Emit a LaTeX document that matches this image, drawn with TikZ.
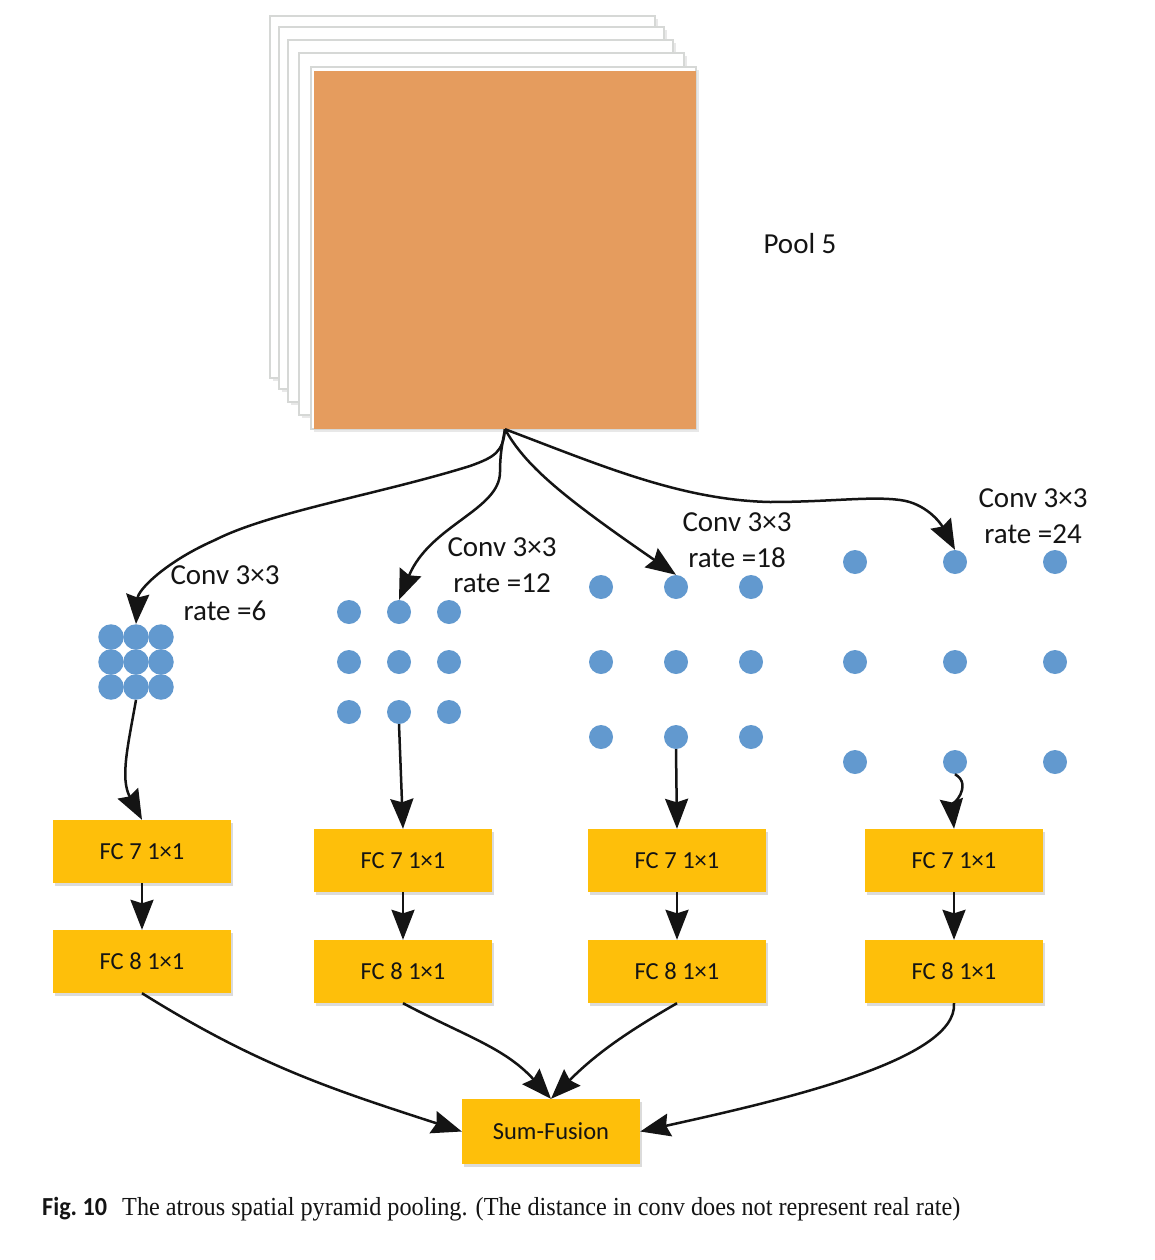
\documentclass[tikz,border=0pt]{standalone}
\usepackage{fontspec}
\usepackage{graphicx}
\setmainfont{Carlito}
\newfontfamily\capserif{Liberation Serif}
\usetikzlibrary{arrows.meta,shadows}
\definecolor{poolorange}{RGB}{229,156,94}
\definecolor{dotblue}{RGB}{98,153,207}
\definecolor{boxgold}{RGB}{254,191,10}
\definecolor{sheetgray}{RGB}{214,216,214}
\definecolor{inkblack}{RGB}{20,20,20}
\begin{document}
\begin{tikzpicture}[x=1pt,y=1pt,
  sheet/.style={fill=white, draw=sheetgray, line width=1.6pt},
  sheetshadow/.style={fill=black!9, draw=none},
  dot/.style={circle, fill=dotblue, inner sep=0pt, minimum size=24pt},
  bigdot/.style={circle, fill=dotblue, inner sep=0pt, minimum size=25.5pt},
  fcbox/.style={rectangle, fill=boxgold, inner sep=0pt, minimum width=178pt, minimum height=63pt,
    font=\fontsize{24.5}{28}\selectfont, text=inkblack,
    drop shadow={shadow xshift=2pt, shadow yshift=-3pt, fill=black!14, opacity=1}},
  lbl/.style={align=center, font=\fontsize{29}{36}\selectfont, text=inkblack},
  conn/.style={draw=inkblack, line width=2.5pt, -{Stealth[length=30pt 0, width=23pt 0, inset=3.5pt]}},
]
\useasboundingbox (0,0) rectangle (1154,-1260);
\fill[white] (0,0) rectangle (1154,-1260);

% stack of feature maps
\foreach \x/\y in {270/16, 279/27, 288/40, 299/53, 311/67}{
  \fill[sheetshadow] (\x+3,-\y-3) rectangle (\x+388,-\y-365);
  \draw[sheet] (\x,-\y) rectangle (\x+385,-\y-362);
}
\node[fill=poolorange, minimum width=382pt, minimum height=358pt, inner sep=0pt] (pool) at (505,-250) {};
\node[lbl] (poollbl) at (800,-244) {Pool 5};

% dot groups
\foreach \r/\y in {1/637,2/662,3/687}{\foreach \c/\x in {1/111,2/136,3/161}{\node[bigdot] (g1-\r\c) at (\x,-\y) {};}}
\foreach \r/\y in {1/612,2/662,3/712}{\foreach \c/\x in {1/349,2/399,3/449}{\node[dot] (g2-\r\c) at (\x,-\y) {};}}
\foreach \r/\y in {1/587,2/662,3/737}{\foreach \c/\x in {1/601,2/676,3/751}{\node[dot] (g3-\r\c) at (\x,-\y) {};}}
\foreach \r/\y in {1/562,2/662,3/762}{\foreach \c/\x in {1/855,2/955,3/1055}{\node[dot] (g4-\r\c) at (\x,-\y) {};}}

% labels
\node[lbl] (lab1) at (225,-593) {Conv 3×3\\rate =6};
\node[lbl] (lab2) at (502,-565) {Conv 3×3\\rate =12};
\node[lbl] (lab3) at (737,-540) {Conv 3×3\\rate =18};
\node[lbl] (lab4) at (1033,-516) {Conv 3×3\\rate =24};

% boxes
\node[fcbox] (fc7-1) at (142,-851.5) {FC 7 1×1};
\node[fcbox] (fc8-1) at (142,-961.5) {FC 8 1×1};
\node[fcbox] (fc7-2) at (403,-860.5) {FC 7 1×1};
\node[fcbox] (fc8-2) at (403,-971.5) {FC 8 1×1};
\node[fcbox] (fc7-3) at (677,-860.5) {FC 7 1×1};
\node[fcbox] (fc8-3) at (677,-971.5) {FC 8 1×1};
\node[fcbox] (fc7-4) at (954,-860.5) {FC 7 1×1};
\node[fcbox] (fc8-4) at (954,-971.5) {FC 8 1×1};
\node[fcbox, minimum height=65pt] (sum) at (551,-1131.5) {Sum-Fusion};

% connectors from pool
\draw[conn] (pool.south) .. controls (503,-452) and (495,-457) .. (470,-466)
  .. controls (380,-494) and (270,-512) .. (215,-540)
  .. controls (165,-562) and (138,-590) .. (g1-12.north);
\draw[conn] (pool.south) .. controls (502,-445) and (500,-455) .. (500,-472)
  .. controls (500,-510) and (430,-525) .. (g2-12.north);
\draw[conn] (pool.south) .. controls (525,-465) and (560,-495) .. (g3-12.north);
\draw[conn] (pool.south) .. controls (600,-465) and (680,-500) .. (770,-502)
  .. controls (830,-502) and (870,-496) .. (900,-500)
  .. controls (925,-503) and (940,-522) .. (g4-12.north);

% dots to FC7, FC7 to FC8
\draw[conn] (g1-32.south) to[out=-100,in=118] (fc7-1.north);
\draw[conn] (fc7-1.south) -- (fc8-1.north);
\draw[conn] (g2-32.south) -- (fc7-2.north);
\draw[conn] (fc7-2.south) -- (fc8-2.north);
\draw[conn] (g3-32.south) -- (fc7-3.north);
\draw[conn] (fc7-3.south) -- (fc8-3.north);
\draw[conn] (g4-32.south) to[out=-30,in=95] (fc7-4.north);
\draw[conn] (fc7-4.south) -- (fc8-4.north);

% to sum-fusion
\draw[conn] (fc8-1.south) to[out=-32,in=162] (sum.west);
\draw[conn] (fc8-2.south) to[out=-28,in=132] (sum.north);
\draw[conn] (fc8-3.south) to[out=-150,in=45] (sum.north);
\draw[conn] (fc8-4.south) .. controls +(4,-57) and +(140,31) .. (sum.east);

% caption
\node[anchor=base west, inner sep=0pt, text=inkblack] (figno) at (42,-1215)
  {\resizebox{65pt}{\height}{\fontsize{26}{30}\selectfont\bfseries Fig.~10}};
\node[anchor=base west, inner sep=0pt, text=inkblack] (captxt) at (122,-1215)
  {\resizebox{838pt}{\height}{\capserif\fontsize{26}{30}\selectfont The atrous spatial pyramid pooling. (The distance in conv does not represent real rate)}};
\end{tikzpicture}
\end{document}
